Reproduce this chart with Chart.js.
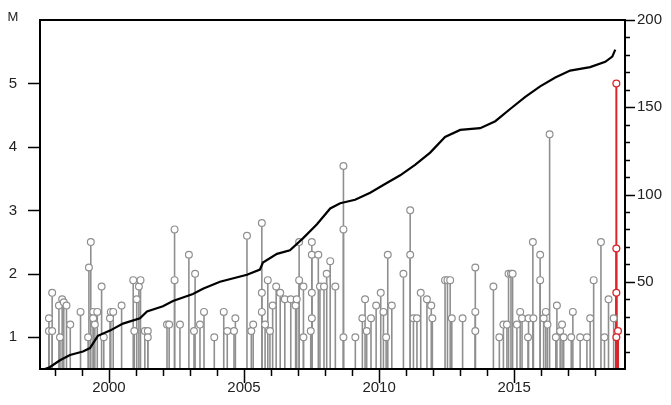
<!DOCTYPE html>
<html>
<head>
<meta charset="utf-8">
<script src="https://cdn.jsdelivr.net/npm/chart.js@4.4.1/dist/chart.umd.min.js"></script>
<style>
  html, body { margin: 0; padding: 0; background: #fff; }
  #wrap { width: 671px; height: 405px; }
</style>
</head>
<body>
<div id="wrap"><canvas id="mtChart" width="671" height="405"></canvas></div>
<script>
// Events: [decimal year, magnitude]
const events = [
  [1997.78, 1.3], [1997.78, 1.1], [1997.90, 1.7], [1997.90, 1.1], [1998.15, 1.5], [1998.19, 1.0],
  [1998.27, 1.6], [1998.33, 1.55], [1998.43, 1.5], [1998.57, 1.2], [1998.95, 1.4],
  [1999.23, 1.0], [1999.26, 2.1], [1999.33, 2.5], [1999.42, 1.4], [1999.42, 1.3], [1999.48, 1.2],
  [1999.57, 1.4], [1999.73, 1.8], [1999.81, 1.0],
  [2000.04, 1.3], [2000.07, 1.4], [2000.16, 1.4], [2000.47, 1.5], [2000.90, 1.9], [2000.94, 1.1],
  [2001.03, 1.6], [2001.11, 1.8], [2001.17, 1.9], [2001.33, 1.1], [2001.44, 1.1], [2001.44, 1.0],
  [2002.15, 1.2], [2002.23, 1.2], [2002.43, 2.7], [2002.43, 1.9], [2002.63, 1.2], [2002.96, 2.3],
  [2003.15, 1.1], [2003.19, 2.0], [2003.37, 1.2], [2003.52, 1.4], [2003.90, 1.0],
  [2004.25, 1.4], [2004.38, 1.1], [2004.63, 1.1], [2004.68, 1.3],
  [2005.11, 2.6], [2005.27, 1.1], [2005.34, 1.2], [2005.66, 2.8], [2005.66, 1.7], [2005.66, 1.4],
  [2005.78, 1.2], [2005.88, 1.9], [2005.96, 1.1],
  [2006.06, 1.5], [2006.19, 1.8], [2006.34, 1.7], [2006.51, 1.6], [2006.73, 1.6], [2006.91, 1.5],
  [2006.95, 1.6],
  [2007.04, 2.5], [2007.04, 1.9], [2007.20, 1.8], [2007.20, 1.0], [2007.47, 1.1], [2007.51, 2.5],
  [2007.51, 2.3], [2007.51, 1.7], [2007.51, 1.3], [2007.75, 2.3], [2007.81, 1.8], [2007.96, 1.8],
  [2008.06, 2.0], [2008.19, 2.2], [2008.38, 1.8], [2008.68, 3.7], [2008.68, 2.7], [2008.68, 1.0],
  [2009.12, 1.0], [2009.38, 1.3], [2009.48, 1.6], [2009.54, 1.1], [2009.70, 1.3], [2009.89, 1.5],
  [2010.06, 1.7], [2010.16, 1.4], [2010.26, 1.0], [2010.32, 2.3], [2010.47, 1.5], [2010.90, 2.0],
  [2011.15, 3.0], [2011.15, 2.3], [2011.27, 1.3], [2011.40, 1.3], [2011.54, 1.7], [2011.77, 1.6],
  [2011.93, 1.5], [2011.97, 1.3],
  [2012.44, 1.9], [2012.53, 1.9], [2012.63, 1.9], [2012.69, 1.3],
  [2013.09, 1.3], [2013.56, 2.1], [2013.56, 1.4], [2013.56, 1.1],
  [2014.23, 1.8], [2014.45, 1.0], [2014.60, 1.2], [2014.73, 1.2], [2014.79, 2.0], [2014.88, 2.0],
  [2014.94, 2.0],
  [2015.10, 1.2], [2015.22, 1.4], [2015.29, 1.3], [2015.51, 1.0], [2015.53, 1.3], [2015.69, 2.5],
  [2015.71, 1.3], [2015.96, 2.3], [2015.96, 1.9],
  [2016.09, 1.3], [2016.17, 1.4], [2016.23, 1.2], [2016.31, 4.2], [2016.54, 1.0], [2016.58, 1.5],
  [2016.70, 1.1], [2016.77, 1.2], [2016.83, 1.0],
  [2017.11, 1.0], [2017.17, 1.4], [2017.44, 1.0], [2017.69, 1.0], [2017.81, 1.3], [2017.94, 1.9],
  [2018.21, 2.5], [2018.34, 1.0], [2018.49, 1.6], [2018.68, 1.3]
];

// Latest sequence, drawn in red
const recentEvents = [
  [2018.78, 5.0], [2018.78, 2.4], [2018.78, 1.7], [2018.84, 1.1], [2018.78, 1.0]
];

// Cumulative event count
const cumYears = [
  1997.63, 1997.81, 1998.19, 1998.56, 1999.04, 1999.30, 1999.59, 2000.04, 2000.52, 2001.15,
  2001.41, 2002.00, 2002.37, 2003.11, 2003.48, 2004.11, 2005.11, 2005.59, 2005.70, 2006.22,
  2006.70, 2007.19, 2007.70, 2008.19, 2008.56, 2009.11, 2009.67, 2010.22, 2010.78, 2011.33,
  2011.89, 2012.44, 2013.00, 2013.74, 2014.30, 2014.85, 2015.41, 2015.96, 2016.52, 2017.07,
  2017.81, 2018.37, 2018.63, 2018.74
];
const cumCounts = [
  0, 1, 5, 8, 10, 12, 19, 22, 26, 29,
  33, 36, 39, 43, 46, 50, 54, 57, 61, 66,
  68, 75, 83, 92, 95, 97, 101, 106, 111, 117,
  124, 133, 137, 138, 142, 149, 156, 162, 167, 171,
  173, 176, 179, 183
];

const yearTicks = [];
for (let y = 1998; y <= 2018; y++) yearTicks.push(y);
const magTicks = [1, 2, 3, 4, 5];
const countTicks = [];
for (let c = 10; c <= 200; c += 10) countTicks.push(c);

const FONT = { family: "'Liberation Sans', Arial, sans-serif", size: 15 };
const TEXT = '#222';
const GRAY = '#8f8f8f';
const RED = '#d8262b';

// stems from the x axis up to every event, then frame and tick marks
const stemsAndAxes = {
  id: 'stemsAndAxes',
  beforeDatasetsDraw(chart) {
    const { ctx, chartArea } = chart;
    ctx.save();
    ctx.beginPath();
    ctx.rect(chartArea.left, chartArea.top, chartArea.width, chartArea.height);
    ctx.clip();
    chart.data.datasets.forEach((ds, i) => {
      if (!ds.stems) return;
      ctx.strokeStyle = ds.borderColor;
      ctx.lineWidth = ds.stemWidth;
      chart.getDatasetMeta(i).data.forEach(pt => {
        ctx.beginPath();
        ctx.moveTo(pt.x, chartArea.bottom);
        ctx.lineTo(pt.x, pt.y + ds.pointRadius);
        ctx.stroke();
      });
    });
    ctx.restore();
  },
  afterDraw(chart) {
    const { ctx, chartArea } = chart;
    const { x, y, y2 } = chart.scales;
    ctx.save();
    ctx.strokeStyle = '#000';
    ctx.lineWidth = 2;
    ctx.strokeRect(chartArea.left, chartArea.top, chartArea.width, chartArea.height);

    ctx.lineWidth = 1.5;
    ctx.beginPath();
    x.ticks.forEach(t => {
      const px = Math.round(x.getPixelForValue(t.value)) + 0.5;
      const len = t.value % 5 === 0 ? 14 : 7;
      ctx.moveTo(px, chartArea.bottom);
      ctx.lineTo(px, chartArea.bottom + len);
    });
    y.ticks.forEach(t => {
      const py = Math.round(y.getPixelForValue(t.value)) + 0.5;
      ctx.moveTo(chartArea.left - 12, py);
      ctx.lineTo(chartArea.left, py);
    });
    y2.ticks.forEach(t => {
      const py = Math.round(y2.getPixelForValue(t.value)) + 0.5;
      const len = t.value % 50 === 0 ? 10 : 5;
      ctx.moveTo(chartArea.right, py);
      ctx.lineTo(chartArea.right + len, py);
    });
    ctx.stroke();

    ctx.fillStyle = TEXT;
    ctx.font = "13px 'Liberation Sans', Arial, sans-serif";
    ctx.textAlign = 'center';
    ctx.textBaseline = 'middle';
    ctx.fillText('M', 13, 17);
    ctx.restore();
  }
};

new Chart(document.getElementById('mtChart'), {
  type: 'scatter',
  data: {
    datasets: [
      {
        label: 'recent',
        data: recentEvents.map(e => ({ x: e[0], y: e[1] })),
        yAxisID: 'y',
        stems: true,
        stemWidth: 2,
        borderColor: RED,
        backgroundColor: '#fff',
        pointRadius: 3.4,
        borderWidth: 1.3,
        order: 0
      },
      {
        label: 'cumulative',
        type: 'line',
        data: cumYears.map((yr, i) => ({ x: yr, y: cumCounts[i] })),
        yAxisID: 'y2',
        borderColor: '#000',
        borderWidth: 2.2,
        pointRadius: 0,
        tension: 0,
        fill: false,
        order: 1
      },
      {
        label: 'events',
        data: events.map(e => ({ x: e[0], y: e[1] })),
        yAxisID: 'y',
        stems: true,
        stemWidth: 1.6,
        borderColor: GRAY,
        backgroundColor: '#fff',
        pointRadius: 3.4,
        borderWidth: 1.2,
        order: 2
      }
    ]
  },
  options: {
    responsive: false,
    animation: false,
    devicePixelRatio: 1,
    layout: { padding: { top: 12, left: 0, right: 0, bottom: 0 } },
    plugins: { legend: { display: false }, tooltip: { enabled: false } },
    scales: {
      x: {
        type: 'linear',
        position: 'bottom',
        min: 1997.45,
        max: 2019.1,
        afterBuildTicks: s => { s.ticks = yearTicks.map(v => ({ value: v })); },
        afterFit: s => { s.height = 36; },
        grid: { display: false, drawTicks: true, tickLength: 8 },
        border: { display: false },
        ticks: {
          padding: 2, autoSkip: false, maxRotation: 0, color: TEXT, font: FONT,
          callback: v => (v % 5 === 0 ? String(v) : '')
        }
      },
      y: {
        type: 'linear',
        position: 'left',
        min: 0.5,
        max: 6,
        afterBuildTicks: s => { s.ticks = magTicks.map(v => ({ value: v })); },
        afterFit: s => { s.width = 40; },
        grid: { display: false, drawTicks: true, tickLength: 12 },
        border: { display: false },
        ticks: { padding: 11, autoSkip: false, color: TEXT, font: FONT, callback: v => String(v) }
      },
      y2: {
        type: 'linear',
        position: 'right',
        min: 0,
        max: 200,
        afterBuildTicks: s => { s.ticks = countTicks.map(v => ({ value: v })); },
        afterFit: s => { s.width = 46; },
        grid: { display: false, drawTicks: true, tickLength: 10 },
        border: { display: false },
        ticks: {
          padding: 2, autoSkip: false, color: TEXT, font: FONT,
          callback: v => (v % 50 === 0 ? String(v) : '')
        }
      }
    }
  },
  plugins: [stemsAndAxes]
});
</script>
</body>
</html>
